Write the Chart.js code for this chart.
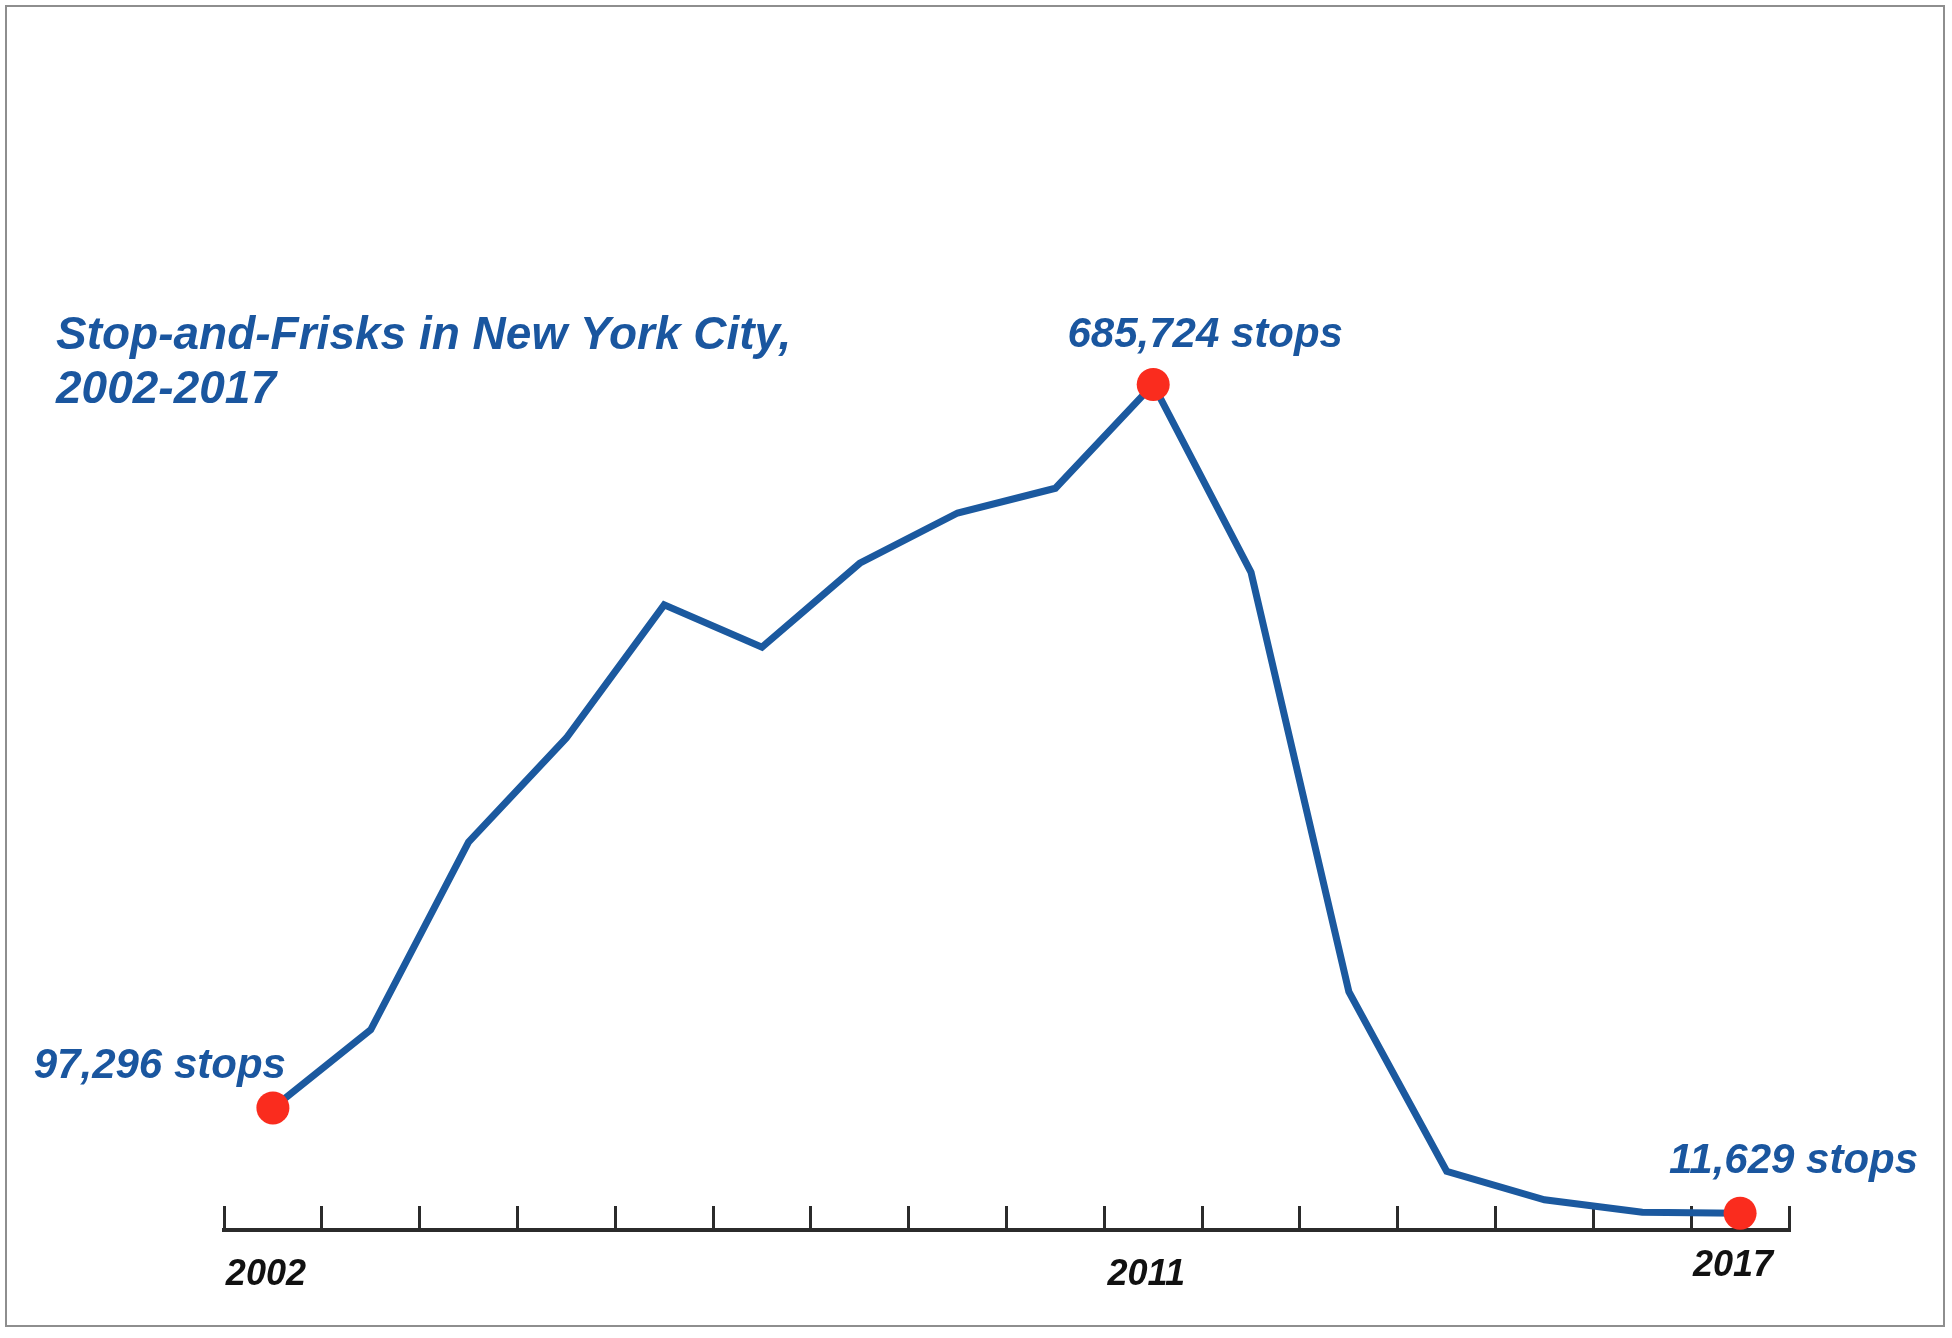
<!DOCTYPE html>
<html>
<head>
<meta charset="utf-8">
<script src="https://cdn.jsdelivr.net/npm/chart.js@4.4.1/dist/chart.umd.min.js"></script>
<style>
  html, body { margin: 0; padding: 0; background: #ffffff; }
  #frame { position: absolute; left: 5px; top: 5px; width: 1940px; height: 1322px; box-sizing: border-box; border: 2px solid #8e8e8e; background: #ffffff; }
  #c { position: absolute; left: 0; top: 0; }
</style>
</head>
<body>
<div id="frame"></div>
<canvas id="c" width="1952" height="1338"></canvas>
<script>
// ---- data ----
const years = ['2002','2003','2004','2005','2006','2007','2008','2009','2010','2011','2012','2013','2014','2015','2016','2017'];
const stops = [97296, 160851, 313523, 398191, 506491, 472096, 540302, 581168, 601285, 685724, 532911, 191851, 45787, 22565, 12404, 11629];
const shownTickLabels = ['2002', '2011', '2017'];
const highlightedYears = ['2002', '2011', '2017'];
const titleLines = ['Stop-and-Frisks in New York City,', '2002-2017'];

// ---- styles ----
const BLUE = '#1a569f';
const LINE_BLUE = '#1b599f';
const RED = '#fa2c1e';
const FONT = '"Liberation Sans", Arial, Helvetica, sans-serif';

// label placement relative to the highlighted point (pixels)
const labelPlacement = {
  '2002': { align: 'right', dx: 13, dy: -30 },
  '2011': { align: 'center', dx: 52, dy: -37 },
  '2017': { align: 'left', dx: -71, dy: -40 }
};

const titlePlugin = {
  id: 'titleText',
  afterDraw(chart) {
    const ctx = chart.ctx;
    ctx.save();
    ctx.fillStyle = BLUE;
    ctx.font = 'italic bold 46px ' + FONT;
    ctx.textAlign = 'left';
    ctx.textBaseline = 'alphabetic';
    titleLines.forEach((t, i) => ctx.fillText(t, 56, 349 + i * 54));
    ctx.restore();
  }
};

const pointLabelPlugin = {
  id: 'pointLabels',
  afterDatasetsDraw(chart) {
    const ctx = chart.ctx;
    const meta = chart.getDatasetMeta(0);
    ctx.save();
    ctx.fillStyle = BLUE;
    ctx.font = 'italic bold 42px ' + FONT;
    ctx.textBaseline = 'alphabetic';
    highlightedYears.forEach(y => {
      const i = years.indexOf(y);
      const el = meta.data[i];
      const p = labelPlacement[y];
      ctx.textAlign = p.align;
      ctx.fillText(stops[i].toLocaleString('en-US') + ' stops', el.x + p.dx, el.y + p.dy);
    });
    ctx.restore();
  }
};

new Chart(document.getElementById('c'), {
  type: 'line',
  data: {
    labels: years,
    datasets: [{
      data: stops,
      borderColor: LINE_BLUE,
      borderWidth: 7,
      tension: 0,
      fill: false,
      pointRadius: ctx => highlightedYears.includes(years[ctx.dataIndex]) ? 16.5 : 0,
      pointHoverRadius: ctx => highlightedYears.includes(years[ctx.dataIndex]) ? 16.5 : 0,
      pointBackgroundColor: RED,
      pointBorderWidth: 0,
      clip: false
    }]
  },
  options: {
    responsive: false,
    animation: false,
    events: [],
    layout: { padding: { left: 224, right: 163, top: 121, bottom: 8 } },
    plugins: { legend: { display: false }, title: { display: false }, tooltip: { enabled: false } },
    scales: {
      x: {
        type: 'category',
        offset: true,
        afterFit(scale) { scale.height = 100; },
        grid: {
          offset: true,
          display: true,
          drawOnChartArea: false,
          drawTicks: true,
          tickLength: -24,
          color: '#2b2b2b',
          lineWidth: 3
        },
        border: { display: true, color: '#2b2b2b', width: 4 },
        ticks: {
          autoSkip: false,
          maxRotation: 0,
          padding: 47,
          labelOffset: -7,
          color: '#111111',
          font: (ctx) => ({
            family: FONT, size: 36, style: 'italic', weight: 'bold',
            lineHeight: (ctx.tick && years[ctx.tick.value] === '2017') ? 0.7 : 1.2
          }),
          callback(value) {
            const lab = this.getLabelForValue(value);
            return shownTickLabels.includes(lab) ? lab : '';
          }
        }
      },
      y: {
        display: false,
        min: -2000,
        max: 900000
      }
    }
  },
  plugins: [titlePlugin, pointLabelPlugin]
});
</script>
</body>
</html>
